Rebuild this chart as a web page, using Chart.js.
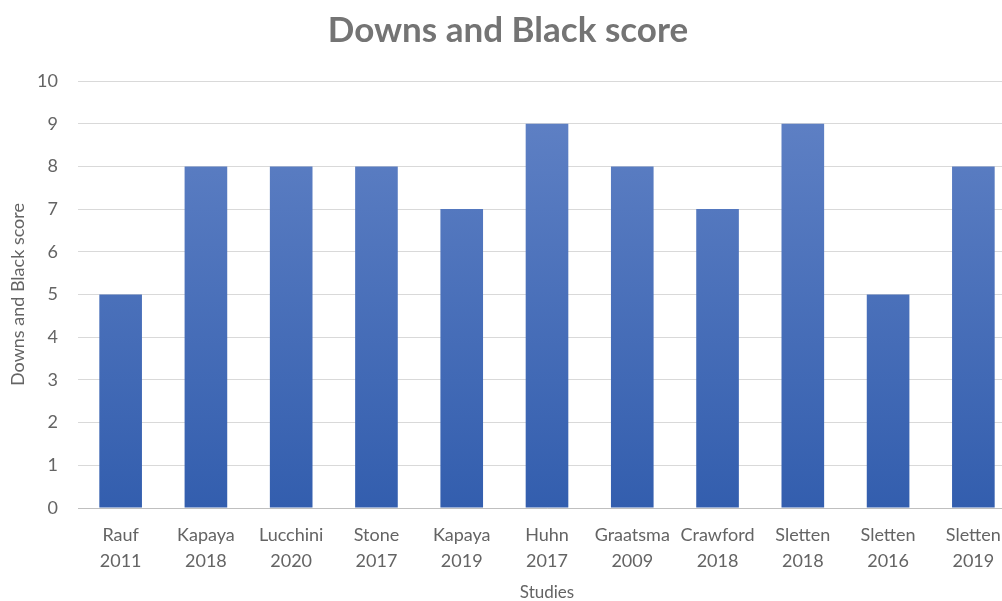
<!DOCTYPE html>
<html lang="en">
<head>
<meta charset="UTF-8">
<title>Downs and Black score</title>
<script src="https://cdn.jsdelivr.net/npm/chart.js@4.4.1/dist/chart.umd.min.js"></script>
<style>
  html, body { margin: 0; padding: 0; background: #fff; overflow: hidden; }
  #wrap { position: absolute; left: 0; top: 0; width: 1016px; height: 601px; }
</style>
</head>
<body>
<div id="wrap"><canvas id="chart"></canvas></div>
<script>
const studies = [
  ['Rauf', '2011'], ['Kapaya', '2018'], ['Lucchini', '2020'], ['Stone', '2017'],
  ['Kapaya', '2019'], ['Huhn', '2017'], ['Graatsma', '2009'], ['Crawford', '2018'],
  ['Sletten', '2018'], ['Sletten', '2016'], ['Sletten', '2019']
];
const scores = [5, 8, 8, 8, 7, 9, 8, 7, 9, 5, 8];
const yTicks = [0, 1, 2, 3, 4, 5, 6, 7, 8, 9, 10];

const grey = '#646464';
const fontFamily = "Lato, 'Open Sans', sans-serif";

function barGradient(ctx) {
  const area = ctx.chart.chartArea;
  if (!area) return '#4472c4';
  const g = ctx.chart.ctx.createLinearGradient(0, area.top, 0, area.bottom);
  g.addColorStop(0, '#6283c6');
  g.addColorStop(1, '#335eae');
  return g;
}

new Chart(document.getElementById('chart'), {
  type: 'bar',
  data: {
    labels: studies,
    datasets: [{
      label: 'Downs and Black score',
      data: scores,
      backgroundColor: barGradient,
      borderWidth: 0,
      barPercentage: 0.5,
      categoryPercentage: 1.0
    }]
  },
  options: {
    responsive: true,
    maintainAspectRatio: false,
    animation: false,
    layout: { padding: { left: 0, right: 0, top: 10, bottom: 0 } },
    plugins: {
      legend: { display: false },
      tooltip: { enabled: false },
      title: {
        display: true,
        text: 'Downs and Black score',
        color: '#747474',
        font: { family: fontFamily, size: 35, weight: 'bold' },
        padding: { top: 0, bottom: 29 }
      }
    },
    scales: {
      x: {
        afterFit: axis => { axis.height = 93; },
        grid: { display: false, drawTicks: false },
        border: { display: true, color: '#bfbfbf', width: 1 },
        ticks: {
          color: grey,
          font: { family: fontFamily, size: 18, lineHeight: 1.4 },
          padding: 15,
          maxRotation: 0,
          autoSkip: false
        },
        title: {
          display: true,
          text: 'Studies',
          color: grey,
          font: { family: fontFamily, size: 17 },
          padding: { top: 0, bottom: -2 }
        }
      },
      y: {
        min: 0,
        max: 10,
        afterFit: axis => { axis.width = 78; },
        afterBuildTicks: axis => { axis.ticks = yTicks.map(v => ({ value: v })); },
        grid: { color: '#d9d9d9', lineWidth: 1, drawTicks: false },
        border: { display: false },
        ticks: {
          color: grey,
          font: { family: fontFamily, size: 18 },
          padding: 20
        },
        title: {
          display: true,
          text: 'Downs and Black score',
          color: grey,
          font: { family: fontFamily, size: 18 },
          padding: { top: 7, bottom: 0 }
        }
      }
    }
  }
});
</script>
</body>
</html>
